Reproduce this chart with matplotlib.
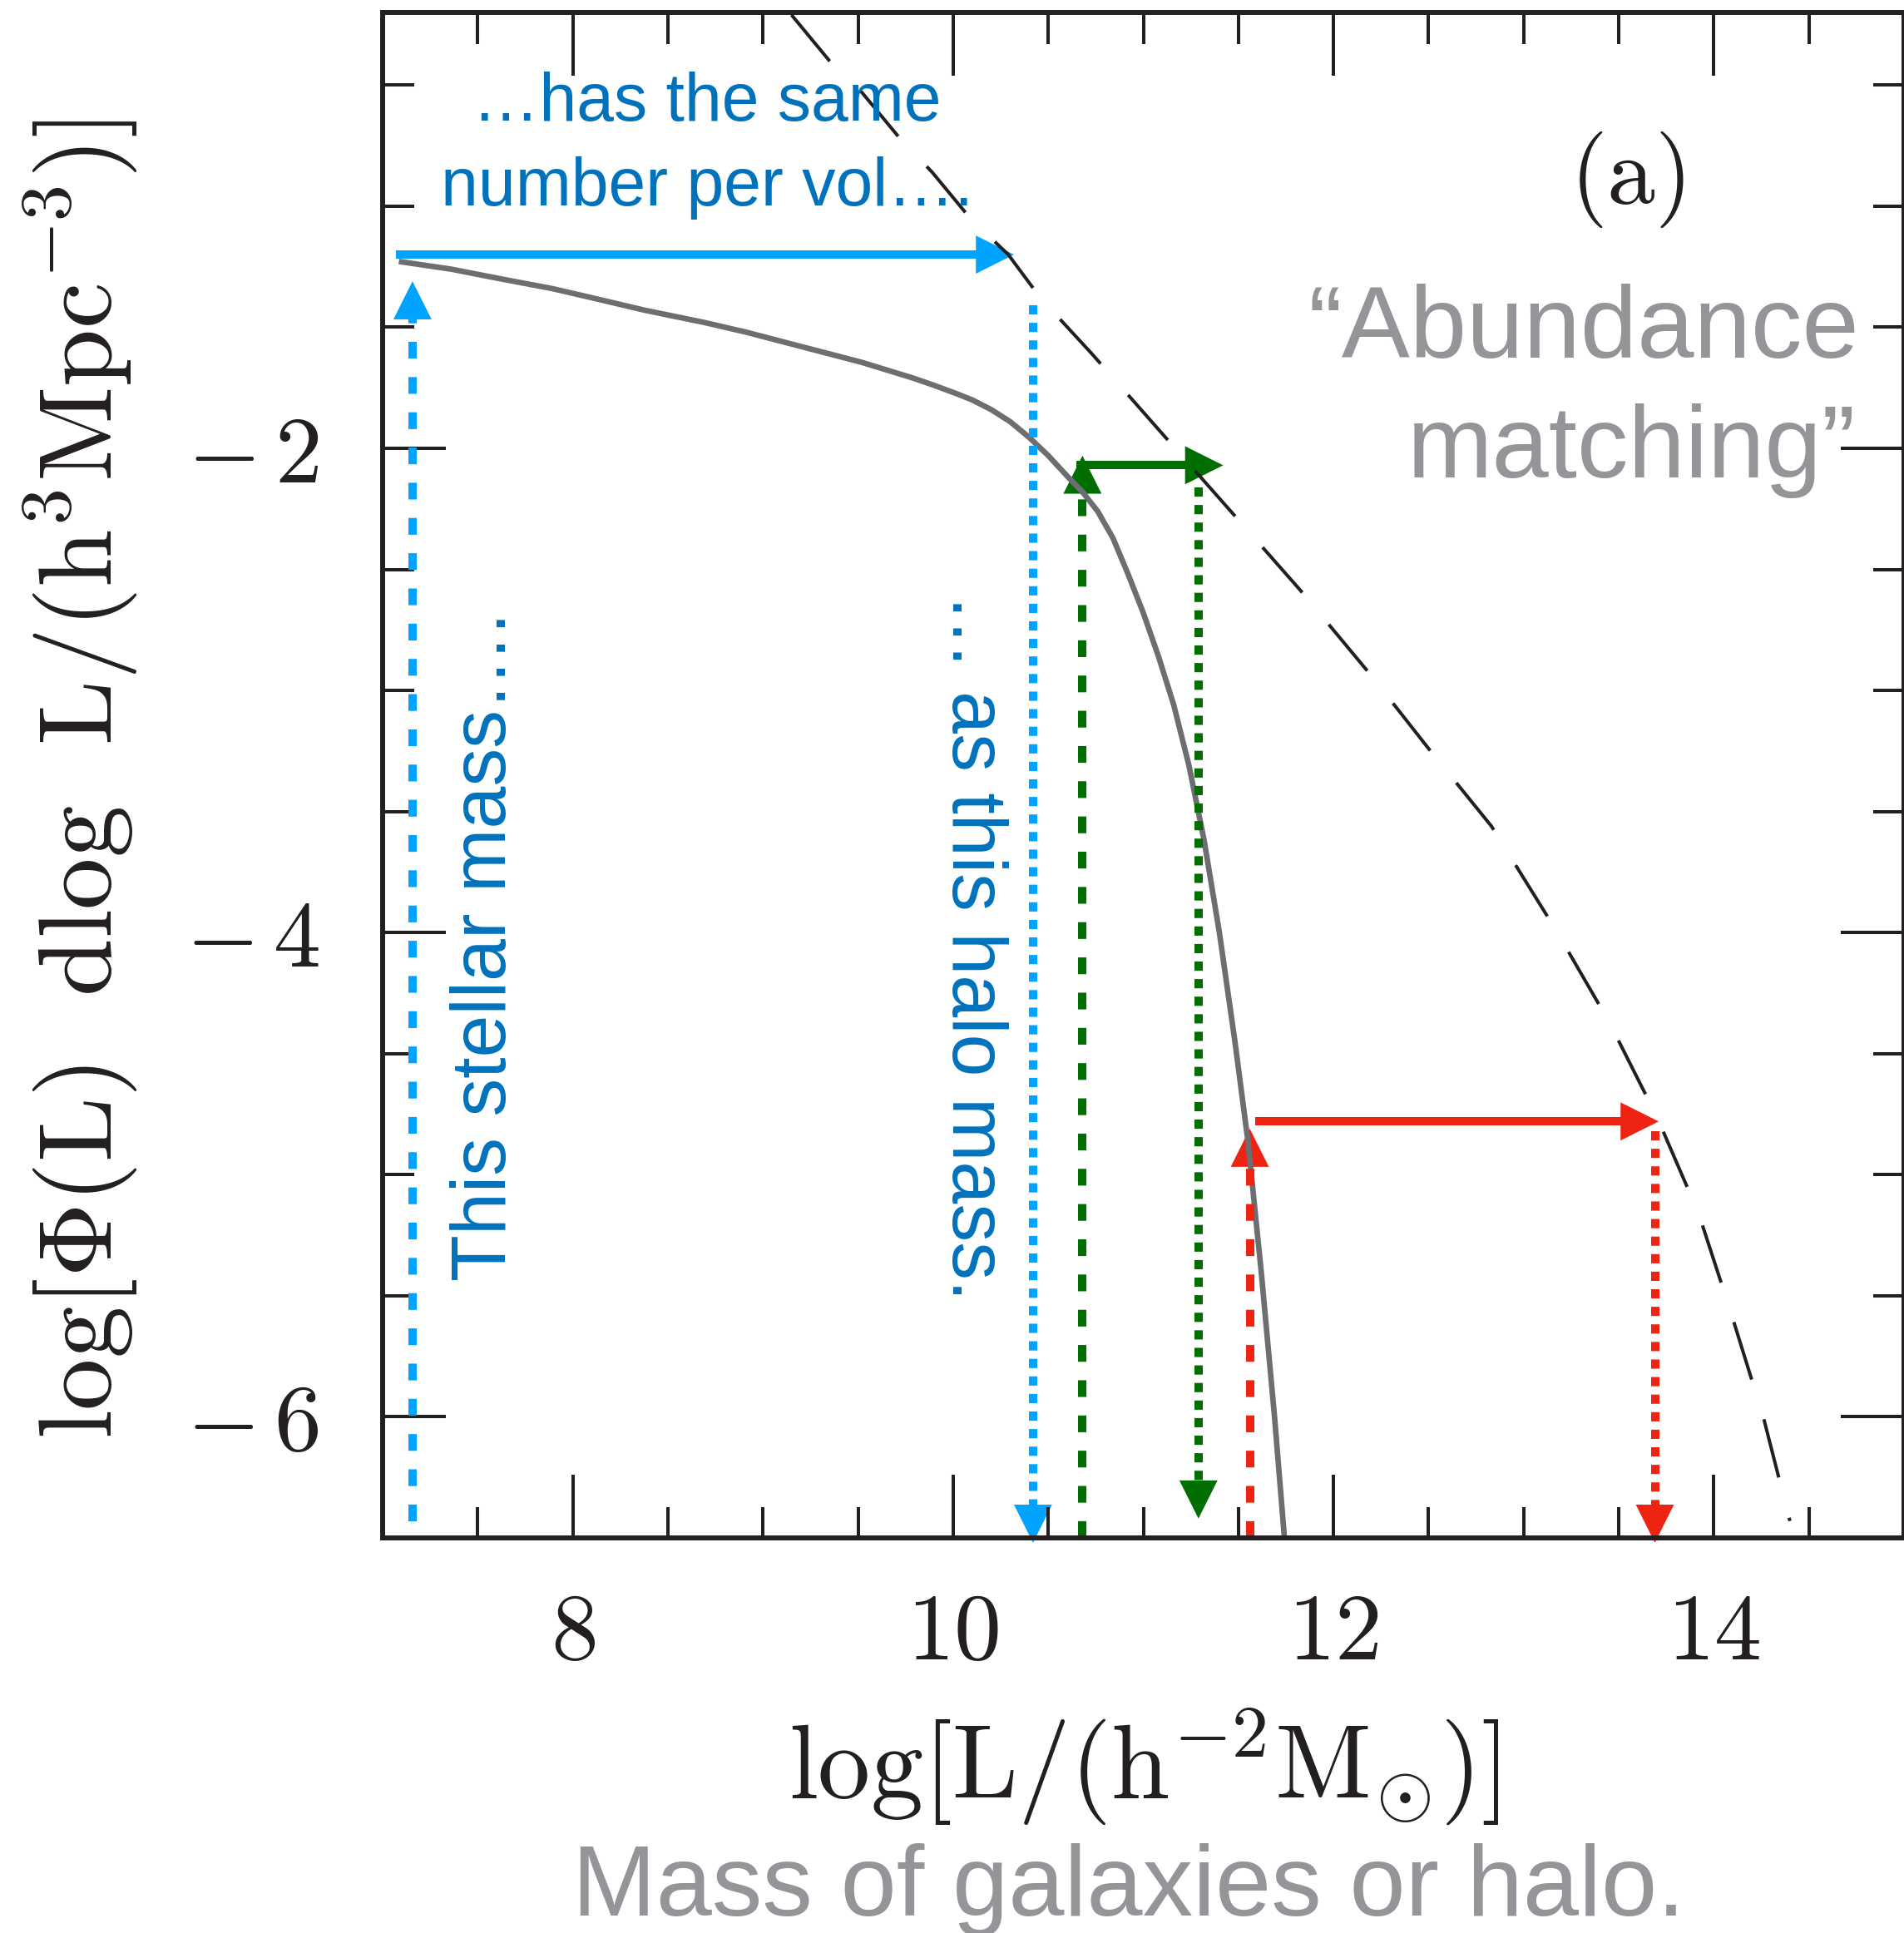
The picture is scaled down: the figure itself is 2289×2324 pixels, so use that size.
import numpy as np
import matplotlib
matplotlib.use("Agg")
import matplotlib.pyplot as plt
from matplotlib.patches import FancyArrowPatch, ArrowStyle
from matplotlib.ticker import MultipleLocator, FuncFormatter

plt.rcParams['font.family'] = ['Liberation Sans', 'DejaVu Sans']
plt.rcParams['mathtext.fontset'] = 'cm'
plt.rcParams['lines.scale_dashes'] = False

# stellar mass function (grey solid)
stellar_x = [7.10, 7.36, 7.62, 7.89, 8.11, 8.38, 8.69, 8.91, 9.52, 9.79, 9.90, 10.02,
             10.10, 10.20, 10.30, 10.40, 10.50, 10.60, 10.68, 10.76, 10.84, 10.92, 11.00,
             11.08, 11.16, 11.24, 11.32, 11.40, 11.48, 11.55, 11.62, 11.69, 11.74]
stellar_y = [-1.23, -1.26, -1.30, -1.34, -1.38, -1.43, -1.48, -1.52, -1.645, -1.71, -1.74, -1.775,
             -1.80, -1.84, -1.89, -1.955, -2.03, -2.115, -2.18, -2.26, -2.37, -2.52, -2.68,
             -2.86, -3.06, -3.31, -3.62, -4.00, -4.44, -4.86, -5.40, -6.00, -6.48]

# halo mass function (black dashed)
halo_x = [9.15, 9.35, 9.52, 9.72, 9.89, 10.09, 10.29, 10.46, 10.73, 11.10, 11.46, 11.83,
          12.20, 12.50, 12.83, 13.17, 13.45, 13.70, 13.92, 14.09, 14.26, 14.40]
halo_y = [-0.21, -0.40, -0.53, -0.72, -0.86, -1.05, -1.20, -1.38, -1.61, -1.94, -2.26, -2.59,
          -2.94, -3.24, -3.56, -3.99, -4.37, -4.76, -5.16, -5.57, -6.00, -6.43]

# abundance matching arrows: blue, green, red
up_x = [7.157, 10.68, 11.56]
up_y0 = [-6.43, -6.50, -6.50]
up_y1 = [-1.31, -2.03, -4.81]
across_y = [-1.20, -2.07, -4.78]
across_x0 = [7.07, 10.65, 11.59]
across_x1 = [10.32, 11.42, 13.71]
down_x = [10.42, 11.29, 13.69]
down_y0 = [-1.41, -2.16, -4.82]
down_y1 = [-6.52, -6.42, -6.52]

x_major = [8, 10, 12, 14]
y_major = [-6, -4, -2]

arrow_colors = ['#00a3ff', '#006e00', '#ee2311']
ink = '#231f20'
text_blue = '#0072bc'
text_grey = '#939598'

fig = plt.figure(figsize=(22.89, 23.24), dpi=100)
ax = fig.add_axes([460 / 2289, 1 - 1849 / 2324, 1829 / 2289, 1834 / 2324])
ax.set_xlim(7, 15)
ax.set_ylim(-6.5, -0.2)

for s in ax.spines.values():
    s.set_linewidth(4.3)
    s.set_color(ink)

ax.set_xticks(x_major)
ax.set_yticks(y_major)
ax.xaxis.set_minor_locator(MultipleLocator(0.5))
ax.yaxis.set_minor_locator(MultipleLocator(0.5))
ax.xaxis.set_major_formatter(FuncFormatter(lambda v, p: r"$%d$" % v))
ax.yaxis.set_major_formatter(FuncFormatter(lambda v, p: r"$-\,%d$" % abs(v)))
ax.tick_params(which='both', direction='in', top=True, right=True, width=2.9,
               color=ink, labelsize=82, labelcolor=ink)
ax.tick_params(which='major', length=55)
ax.tick_params(which='minor', length=27)
ax.tick_params(axis='x', pad=46)
ax.tick_params(axis='y', pad=55)

ax.plot(stellar_x, stellar_y, color='#6d6e71', lw=4.8, solid_joinstyle='round')
ax.plot(halo_x, halo_y, color=ink, lw=2.9, linestyle=(0, (52, 36)))

dashed = (0, (14.5, 16))
dotted = (0, (8, 7.2))
head_px = 45


def arrow(x0, y0, x1, y1, color, ls):
    p0 = ax.transData.transform((x0, y0))
    p1 = ax.transData.transform((x1, y1))
    d = p1 - p0
    end = p1 - d / np.hypot(*d) * head_px * 0.8
    xe, ye = ax.transData.inverted().transform(end)
    ax.plot([x0, xe], [y0, ye], color=color, lw=7.2, linestyle=ls,
            solid_capstyle='butt', dash_capstyle='butt', clip_on=False)
    style = ArrowStyle('-|>', head_length=33, head_width=16.5)
    ax.add_patch(FancyArrowPatch((x0, y0), (x1, y1), arrowstyle=style, mutation_scale=1,
                                 lw=0, color=color, shrinkA=0, shrinkB=0, clip_on=False))


for i, c in enumerate(arrow_colors):
    arrow(up_x[i], up_y0[i], up_x[i], up_y1[i], c, dashed)
    arrow(across_x0[i], across_y[i], across_x1[i], across_y[i], c, '-')
    arrow(down_x[i], down_y0[i], down_x[i], down_y1[i], c, dotted)

# annotations
ax.text(8.706, -0.646, "\u2026has the same", color=text_blue, fontsize=58, ha='center', va='baseline')
ax.text(8.706, -0.997, "number per vol\u2026.", color=text_blue, fontsize=58, ha='center', va='baseline')
ax.text(7.647, -4.058, "This stellar mass\u2026.", color=text_blue, fontsize=66, rotation=90,
        rotation_mode='anchor', ha='center', va='baseline')
ax.text(9.996, -4.058, "\u2026 as this halo mass.", color=text_blue, fontsize=66, rotation=270,
        rotation_mode='anchor', ha='center', va='baseline')
ax.text(14.765, -1.625, "\u201cAbundance", color=text_grey, fontsize=88.5, ha='right', va='baseline')
ax.text(14.748, -2.12, "matching\u201d", color=text_grey, fontsize=88.5, ha='right', va='baseline')
ax.text(13.545, -0.89, r"$\mathrm{(a)}$", color=ink, fontsize=83, ha='center', va='center')

fig.text(0.6007, 0.0856, r"$\mathrm{log[L/(h^{-2}M_{\odot})]}$", color=ink, fontsize=91,
         ha='center', va='center')
fig.text(0.0425, 0.597, r"$\mathrm{log[\Phi(L)\ \ dlog\ \ L/(h^{3}Mpc^{-3})]}$", color=ink,
         fontsize=90, rotation=90, ha='center', va='center')
fig.text(0.5928, 0.009, "Mass of galaxies or halo.", color=text_grey, fontsize=87,
         ha='center', va='baseline')

fig.savefig('out.png', dpi=100)
